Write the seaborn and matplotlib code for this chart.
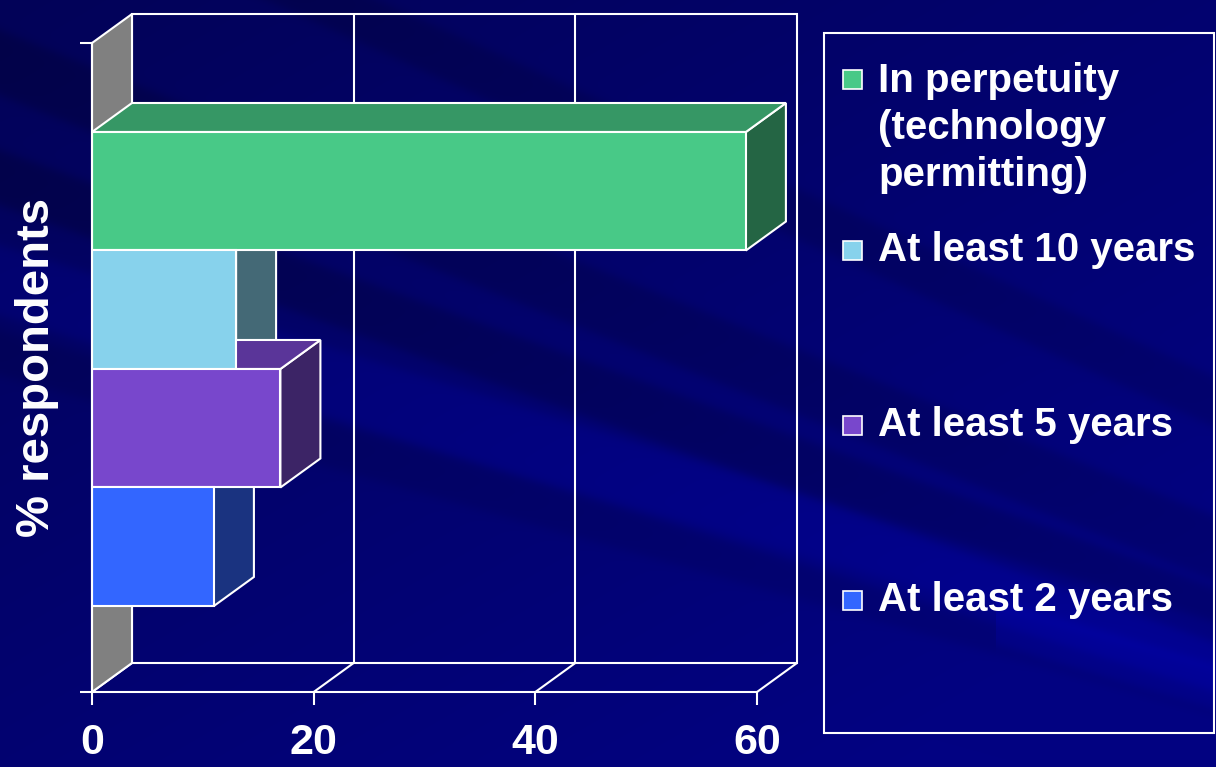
import numpy as np
import pandas as pd
import matplotlib
matplotlib.use("Agg")
import matplotlib.pyplot as plt
import seaborn as sns
from matplotlib.patches import Polygon, Rectangle
from matplotlib.lines import Line2D
from matplotlib.transforms import IdentityTransform
from matplotlib.colors import to_rgb

# ---- data -------------------------------------------------------------
horizons = [
    "In perpetuity\n(technology\npermitting)",
    "At least 10 years",
    "At least 5 years",
    "At least 2 years",
]
percent = [59, 13, 17, 11]
bar_colors = ["#48C987", "#87D2EC", "#7847CC", "#3366FF"]
x_ticks = [0, 20, 40, 60]
x_tick_labels = ["0", "20", "40", "60"]
y_label = "% respondents"

# ---- figure -----------------------------------------------------------
sns.set_theme(style="white")
plt.rcParams["font.family"] = ["Liberation Sans", "DejaVu Sans"]
plt.rcParams["font.weight"] = "bold"

W, H, DPI = 1216, 767, 100
fig = plt.figure(figsize=(W / DPI, H / DPI), dpi=DPI)

# navy slide background with hard-edged diagonal streaks
yy, xx = np.mgrid[0:H, 0:W].astype(float)
blue = 88 + 42 * np.clip(0.55 * xx / W + 0.6 * yy / H, 0, 1)


def band(slope, lo, hi, amp, mask=1.0):
    u = yy - slope * xx
    edge = 3.0
    w = 1 / (1 + np.exp(-(u - lo) / edge)) * 1 / (1 + np.exp((u - hi) / edge))
    return amp * w * mask


blue += band(0.40, 30, 95, -16)
blue += band(0.36, 150, 205, -18)
blue += band(0.31, 245, 315, 15)
blue += band(0.28, 330, 375, -10)
blue += band(0.45, -170, -120, -14)
blue += band(0.30, 300, 345, 16, mask=(xx > 995))
blue = np.clip(blue, 0, 255)
img = np.zeros((H, W, 3))
img[..., 0] = 2 / 255
img[..., 1] = 2 / 255
img[..., 2] = blue / 255
bg = fig.add_axes([0, 0, 1, 1], zorder=-10)
bg.imshow(img, extent=[0, 1, 0, 1], aspect="auto", origin="upper")
bg.axis("off")

# front plane of the plot box (pixel frame)
L, R, T, B = 92, 757, 43, 692
ax = fig.add_axes([L / W, 1 - B / H, (R - L) / W, (B - T) / H])
ax.patch.set_alpha(0)

df = pd.DataFrame({"horizon": horizons, "percent": percent})
sns.barplot(data=df, x="percent", y="horizon", hue="horizon",
            order=horizons, hue_order=horizons, palette=bar_colors,
            saturation=1, width=1.0, orient="h", legend=False,
            edgecolor="white", linewidth=1.5, ax=ax)

ax.set_xlim(0, 60)
y_top, y_bot = -1.251, 4.226
ax.set_ylim(y_bot, y_top)

# depth offset of the 3-D box (display pixels)
DX, DY = 40, 29


def disp(x, y, depth=0):
    px, py = ax.transData.transform((x, y))
    return (px + depth * DX, py + depth * DY)


def face(points, color, z, lw=1.5):
    p = Polygon(points, closed=True, facecolor=color, edgecolor="white",
                linewidth=lw, transform=IdentityTransform(), zorder=z,
                clip_on=False)
    ax.add_artist(p)


def seg(p0, p1, z=1):
    ax.add_artist(Line2D([p0[0], p1[0]], [p0[1], p1[1]], color="white",
                         linewidth=1.5, transform=IdentityTransform(),
                         zorder=z, clip_on=False))


# back wall with its gridlines
face([disp(0, y_top, 1), disp(60, y_top, 1), disp(60, y_bot, 1),
      disp(0, y_bot, 1)], "none", 1)
for xv in x_ticks[1:-1]:
    seg(disp(xv, y_top, 1), disp(xv, y_bot, 1))
# floor
for xv in x_ticks:
    seg(disp(xv, y_bot, 0), disp(xv, y_bot, 1))
# grey side wall
face([disp(0, y_top, 0), disp(0, y_top, 1), disp(0, y_bot, 1),
      disp(0, y_bot, 0)], "#808080", 1.5)


def shade(c, f):
    r, g, b = to_rgb(c)
    return (r * f, g * f, b * f)


# side and top faces of every bar, built from the seaborn bars
for patch, col in zip(ax.patches, bar_colors):
    patch.set_zorder(4)
    v = patch.get_width()
    ya, yb = patch.get_y(), patch.get_y() + patch.get_height()
    upper = min(ya, yb)  # axis is inverted: smaller value sits higher
    face([disp(v, ya, 0), disp(v, ya, 1), disp(v, yb, 1), disp(v, yb, 0)],
         shade(col, 0.5), 2)
    face([disp(0, upper, 0), disp(0, upper, 1), disp(v, upper, 1),
          disp(v, upper, 0)], shade(col, 0.75), 3)

# axes styling
for s in ["top", "right"]:
    ax.spines[s].set_visible(False)
for s in ["left", "bottom"]:
    ax.spines[s].set_color("white")
    ax.spines[s].set_linewidth(1.5)
    ax.spines[s].set_zorder(5)

ax.set_xticks(x_ticks, labels=x_tick_labels)
ax.set_yticks([y_top, y_bot], labels=["", ""])
ax.tick_params(axis="x", bottom=True, direction="out", length=9.4,
               width=1.5, color="white", labelcolor="white", labelsize=31,
               pad=13)
ax.tick_params(axis="y", left=True, direction="out", length=8.6,
               width=1.5, color="white")
for lab in ax.get_xticklabels():
    lab.set_fontweight("bold")
ax.set_xlabel("")
ax.set_ylabel(y_label, color="white", fontsize=34, fontweight="bold")
ax.yaxis.set_label_coords((37 - L) / (R - L), (B - 367) / (B - T))
ax.yaxis.label.set_verticalalignment("center")

# legend box
fig.add_artist(Rectangle((824 / W, 1 - 733 / H), (1214 - 824) / W,
                         (733 - 33) / H, transform=fig.transFigure,
                         facecolor="none", edgecolor="white", linewidth=1.5))
first_baselines = [90, 261, 436, 611]
line_step = 48
for lab, col, yb in zip(horizons, bar_colors, first_baselines):
    n_lines = lab.count("\n")
    fig.add_artist(Rectangle((843 / W, 1 - (yb - 1) / H), 19 / W, 19 / H,
                             transform=fig.transFigure, facecolor=col,
                             edgecolor="white", linewidth=1.2))
    # multi-line text aligns on the baseline of its last line
    fig.text(878 / W, 1 - (yb + n_lines * line_step) / H, lab,
             color="white", fontsize=29, fontweight="bold", ha="left",
             va="baseline", linespacing=1.30)

fig.savefig("out.png", dpi=DPI)
